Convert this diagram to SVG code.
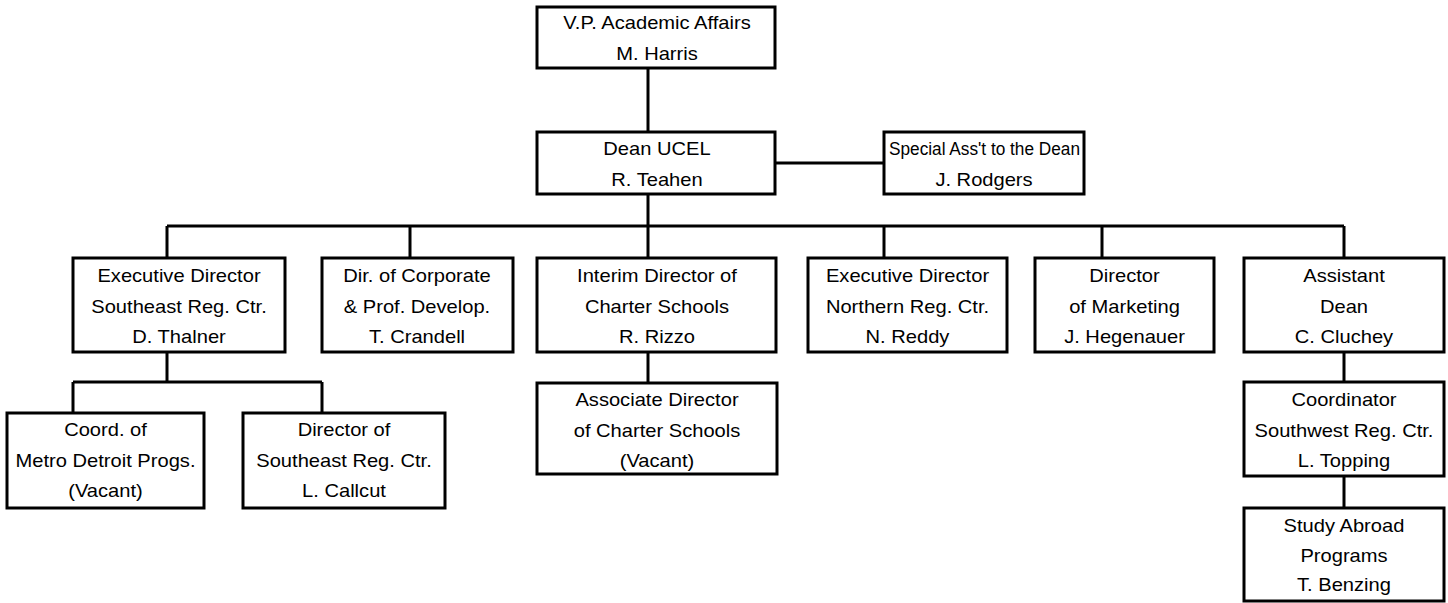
<svg xmlns="http://www.w3.org/2000/svg" width="1448" height="603" viewBox="0 0 1448 603">
<style>
.box{fill:#fff;stroke:#000;stroke-width:3}
.ln{fill:none;stroke:#000;stroke-width:3}
text{font-family:"Liberation Sans",Arial,Helvetica,sans-serif;font-size:17.5px;fill:#000;text-anchor:middle}
</style>
<rect width="1448" height="603" fill="#fff"/>
<g id="connectors" class="ln">
<path d="M648 68V132"/>
<path d="M776 163H884"/>
<path d="M648 194V226M167 226H1344M167 226V258M410 226V258M648 226V258M884 226V258M1102 226V258M1344 226V258"/>
<path d="M167 352V382M73 382H322M73 382V413M322 382V413"/>
<path d="M648 352V383"/>
<path d="M1344 352V382M1344 476V508"/>
</g>
<g id="vp"><rect class="box" x="537" y="7" width="238" height="61"/><g transform="translate(657 0) scale(1.15 1)"><text y="29">V.P. Academic Affairs</text><text y="60">M. Harris</text></g></g>
<g id="dean"><rect class="box" x="537" y="132" width="238" height="62"/><g transform="translate(657 0) scale(1.15 1)"><text y="155">Dean UCEL</text><text y="186">R. Teahen</text></g></g>
<g id="special"><rect class="box" x="884" y="132" width="200" height="62"/><text x="984.5" y="155" textLength="191" lengthAdjust="spacingAndGlyphs">Special Ass't to the Dean</text><g transform="translate(984 0) scale(1.15 1)"><text y="186">J. Rodgers</text></g></g>
<g id="exec-se"><rect class="box" x="73" y="258" width="212" height="94"/><g transform="translate(179 0) scale(1.15 1)"><text y="282">Executive Director</text><text y="313">Southeast Reg. Ctr.</text><text y="343">D. Thalner</text></g></g>
<g id="corp"><rect class="box" x="322" y="258" width="191" height="94"/><g transform="translate(417 0) scale(1.15 1)"><text y="282">Dir. of Corporate</text><text y="313">&amp; Prof. Develop.</text><text y="343">T. Crandell</text></g></g>
<g id="charter"><rect class="box" x="537" y="258" width="239" height="94"/><g transform="translate(657 0) scale(1.15 1)"><text y="282">Interim Director of</text><text y="313">Charter Schools</text><text y="343">R. Rizzo</text></g></g>
<g id="exec-n"><rect class="box" x="808" y="258" width="199" height="94"/><g transform="translate(907.5 0) scale(1.15 1)"><text y="282">Executive Director</text><text y="313">Northern Reg. Ctr.</text><text y="343">N. Reddy</text></g></g>
<g id="marketing"><rect class="box" x="1035" y="258" width="179" height="94"/><g transform="translate(1124.5 0) scale(1.15 1)"><text y="282">Director</text><text y="313">of Marketing</text><text y="343">J. Hegenauer</text></g></g>
<g id="asst-dean"><rect class="box" x="1244" y="258" width="200" height="94"/><g transform="translate(1344 0) scale(1.15 1)"><text y="282">Assistant</text><text y="313">Dean</text><text y="343">C. Cluchey</text></g></g>
<g id="metro"><rect class="box" x="7" y="413" width="197" height="95"/><g transform="translate(105.5 0) scale(1.15 1)"><text y="436">Coord. of</text><text y="467">Metro Detroit Progs.</text><text y="497">(Vacant)</text></g></g>
<g id="dir-se"><rect class="box" x="243" y="413" width="202" height="95"/><g transform="translate(344 0) scale(1.15 1)"><text y="436">Director of</text><text y="467">Southeast Reg. Ctr.</text><text y="497">L. Callcut</text></g></g>
<g id="assoc"><rect class="box" x="537" y="383" width="240" height="91"/><g transform="translate(657 0) scale(1.15 1)"><text y="406">Associate Director</text><text y="437">of Charter Schools</text><text y="467">(Vacant)</text></g></g>
<g id="coord-sw"><rect class="box" x="1244" y="382" width="200" height="94"/><g transform="translate(1344 0) scale(1.15 1)"><text y="406">Coordinator</text><text y="437">Southwest Reg. Ctr.</text><text y="467">L. Topping</text></g></g>
<g id="study"><rect class="box" x="1244" y="508" width="200" height="93"/><g transform="translate(1344 0) scale(1.15 1)"><text y="532">Study Abroad</text><text y="562">Programs</text><text y="591">T. Benzing</text></g></g>
</svg>
